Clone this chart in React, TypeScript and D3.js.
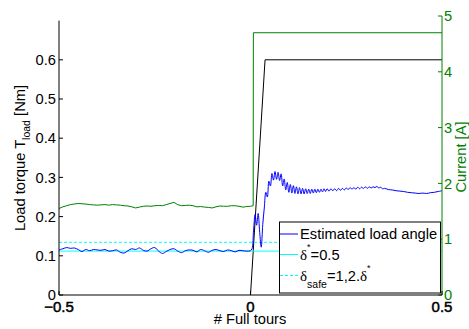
import React from 'react';
import * as d3 from 'd3';

const W = 469;
const H = 329;

const tourTicks = [-0.5, 0, 0.5];
const torqueTicks = [0, 0.1, 0.2, 0.3, 0.4, 0.5, 0.6];
const currentTicks = [0, 1, 2, 3, 4, 5];

// Estimated load angle, [full tours, value] (left axis)
const loadAngle: [number, number][] = [
  [-0.50, 0.115], [-0.49, 0.118], [-0.48, 0.121], [-0.47, 0.119], [-0.46, 0.120],
  [-0.45, 0.116], [-0.44, 0.111], [-0.43, 0.116], [-0.42, 0.113], [-0.41, 0.116],
  [-0.40, 0.115], [-0.39, 0.114], [-0.38, 0.116], [-0.37, 0.112], [-0.36, 0.113],
  [-0.35, 0.115], [-0.34, 0.109], [-0.33, 0.107], [-0.32, 0.113], [-0.31, 0.118],
  [-0.30, 0.116], [-0.29, 0.120], [-0.28, 0.114], [-0.27, 0.112], [-0.26, 0.118],
  [-0.25, 0.121], [-0.24, 0.112], [-0.23, 0.106], [-0.22, 0.111], [-0.21, 0.116],
  [-0.20, 0.118], [-0.19, 0.112], [-0.18, 0.108], [-0.17, 0.113], [-0.16, 0.115],
  [-0.15, 0.114], [-0.14, 0.110], [-0.13, 0.116], [-0.12, 0.113], [-0.11, 0.109],
  [-0.10, 0.114], [-0.09, 0.116], [-0.08, 0.113], [-0.07, 0.111], [-0.06, 0.115],
  [-0.05, 0.113], [-0.04, 0.110], [-0.03, 0.114], [-0.02, 0.113], [-0.01, 0.112],
  [0.000, 0.113], [0.004, 0.118], [0.008, 0.165], [0.012, 0.205], [0.016, 0.178],
  [0.020, 0.208], [0.024, 0.160], [0.028, 0.122], [0.032, 0.180], [0.036, 0.222],
  [0.040, 0.262], [0.044, 0.250], [0.048, 0.290], [0.052, 0.278], [0.056, 0.310],
  [0.060, 0.293], [0.064, 0.315], [0.068, 0.295], [0.072, 0.313], [0.076, 0.292],
  [0.080, 0.309], [0.084, 0.278], [0.088, 0.296], [0.092, 0.268], [0.096, 0.287],
  [0.100, 0.262], [0.104, 0.282], [0.108, 0.260], [0.112, 0.279], [0.116, 0.259],
  [0.120, 0.276], [0.124, 0.258], [0.128, 0.274], [0.132, 0.258], [0.136, 0.272],
  [0.140, 0.258], [0.144, 0.271], [0.148, 0.259], [0.152, 0.270], [0.156, 0.259],
  [0.160, 0.270], [0.164, 0.260], [0.168, 0.270], [0.172, 0.261], [0.176, 0.270],
  [0.180, 0.262], [0.184, 0.270], [0.188, 0.263], [0.192, 0.271], [0.196, 0.264],
  [0.200, 0.271], [0.205, 0.265], [0.210, 0.271], [0.215, 0.266], [0.220, 0.271],
  [0.225, 0.266], [0.230, 0.272], [0.235, 0.267], [0.240, 0.272], [0.245, 0.268],
  [0.250, 0.273], [0.255, 0.269], [0.260, 0.274], [0.265, 0.270], [0.270, 0.274],
  [0.275, 0.270], [0.280, 0.275], [0.285, 0.271], [0.290, 0.275], [0.295, 0.272],
  [0.300, 0.276], [0.305, 0.272], [0.310, 0.276], [0.315, 0.273], [0.320, 0.276],
  [0.325, 0.274], [0.330, 0.277], [0.335, 0.273], [0.340, 0.275], [0.345, 0.271],
  [0.350, 0.272], [0.360, 0.269], [0.370, 0.268], [0.380, 0.266], [0.390, 0.265],
  [0.400, 0.264], [0.410, 0.262], [0.420, 0.261], [0.430, 0.260], [0.440, 0.259],
  [0.450, 0.260], [0.460, 0.259], [0.470, 0.261], [0.480, 0.262], [0.490, 0.264],
  [0.500, 0.266],
];

// Motor current, [full tours, A] (right axis)
const current: [number, number][] = [
  [-0.50, 1.55], [-0.49, 1.58], [-0.48, 1.60], [-0.47, 1.62], [-0.46, 1.63],
  [-0.45, 1.64], [-0.44, 1.635], [-0.43, 1.63], [-0.42, 1.62], [-0.41, 1.615],
  [-0.40, 1.61], [-0.39, 1.615], [-0.38, 1.62], [-0.37, 1.61], [-0.36, 1.62],
  [-0.35, 1.615], [-0.34, 1.61], [-0.33, 1.60], [-0.32, 1.595], [-0.31, 1.58],
  [-0.30, 1.56], [-0.29, 1.575], [-0.28, 1.59], [-0.27, 1.595], [-0.26, 1.59],
  [-0.25, 1.60], [-0.24, 1.605], [-0.23, 1.60], [-0.22, 1.62], [-0.21, 1.64],
  [-0.20, 1.66], [-0.19, 1.62], [-0.18, 1.60], [-0.17, 1.605], [-0.16, 1.61],
  [-0.15, 1.60], [-0.14, 1.58], [-0.13, 1.585], [-0.12, 1.575], [-0.11, 1.57],
  [-0.10, 1.56], [-0.09, 1.58], [-0.08, 1.595], [-0.07, 1.59], [-0.06, 1.59],
  [-0.05, 1.60], [-0.04, 1.60], [-0.03, 1.59], [-0.02, 1.575], [-0.01, 1.585],
  [0.000, 1.59], [0.007, 1.60], [0.0075, 4.70], [0.500, 4.70],
];

// Load torque reference [full tours, Nm] (left axis)
const torqueRef: [number, number][] = [[0, 0], [0.038, 0.6], [0.5, 0.6]];

const deltaStar = 0.112;
const deltaSafe = 0.1344;

const FONT = '"Liberation Sans", Arial, Helvetica, sans-serif';
const SERIF = '"Liberation Serif", "DejaVu Serif", serif';
const FS = 14.7;
const GREEN = '#008000';

export default function App() {
  const x = d3.scaleLinear().domain([-0.5, 0.5]).range([59, 442]);
  const yL = d3.scaleLinear().domain([0, 0.7]).range([295, 20.6]);
  const yR = d3.scaleLinear().domain([0, 5]).range([295, 16]);

  const lineL = d3.line<[number, number]>().x(d => x(d[0])).y(d => yL(d[1]));
  const lineLSmooth = d3
    .line<[number, number]>()
    .x(d => x(d[0]))
    .y(d => yL(d[1]))
    .curve(d3.curveCatmullRom.alpha(0.5));
  const lineR = d3.line<[number, number]>().x(d => x(d[0])).y(d => yR(d[1]));

  const x0 = x(-0.5);
  const x1 = x(0.5);
  const yBase = yL(0);

  return (
    <svg
      width={W}
      height={H}
      style={{ position: 'absolute', left: 0, top: 0, background: '#fff' }}
      fontFamily={FONT}
    >
      {/* current (right axis) */}
      <path d={lineR(current) ?? ''} fill="none" stroke={GREEN} strokeWidth={1} />

      {/* torque reference */}
      <path d={lineL(torqueRef) ?? ''} fill="none" stroke="#000" strokeWidth={1} />

      {/* load angle limits */}
      <path
        d={lineL([[-0.5, deltaStar], [0.5, deltaStar]]) ?? ''}
        fill="none"
        stroke="#00ffff"
        strokeWidth={1}
      />
      <path
        d={lineL([[-0.5, deltaSafe], [0.5, deltaSafe]]) ?? ''}
        fill="none"
        stroke="#00ffff"
        strokeWidth={1}
        strokeDasharray="3,2"
      />

      {/* estimated load angle */}
      <path d={lineLSmooth(loadAngle) ?? ''} fill="none" stroke="#0000ff" strokeWidth={1} />

      {/* left axis */}
      <line x1={x0} x2={x0} y1={yL(0)} y2={yL(0.7)} stroke="#000" strokeWidth={1} />
      {torqueTicks.map(t => (
        <g key={'l' + t}>
          <line x1={x0} x2={x0 + 4} y1={yL(t)} y2={yL(t)} stroke="#000" strokeWidth={1} />
          <text x={x0 - 3} y={yL(t)} dy="0.36em" textAnchor="end" fontSize={FS} fill="#000">
            {t === 0 ? '0' : d3.format('.1f')(t)}
          </text>
        </g>
      ))}

      {/* right axis */}
      <line x1={x1} x2={x1} y1={yR(0)} y2={yR(5)} stroke={GREEN} strokeWidth={1} />
      {currentTicks.map(t => (
        <g key={'r' + t}>
          <line x1={x1 - 4} x2={x1} y1={yR(t)} y2={yR(t)} stroke={GREEN} strokeWidth={1} />
          <text x={x1 + 2} y={yR(t)} dy="0.36em" textAnchor="start" fontSize={FS} fill={GREEN}>
            {t}
          </text>
        </g>
      ))}

      {/* bottom axis */}
      <line x1={x0} x2={x1} y1={yBase} y2={yBase} stroke="#000" strokeWidth={1} />
      {tourTicks.map(t => (
        <g key={'b' + t}>
          <line x1={x(t)} x2={x(t)} y1={yBase} y2={yBase - 4} stroke="#000" strokeWidth={1} />
          <text
            x={x(t)}
            y={312}
            textAnchor="middle"
            fontSize={15}
            fill="#000"
            stroke="#000"
            strokeWidth={0.5}
          >
            {t === 0 ? '0' : d3.format('.1f')(t)}
          </text>
        </g>
      ))}

      {/* axis titles */}
      <text x={250} y={324} textAnchor="middle" fontSize={FS} fill="#000">
        # Full tours
      </text>
      <text
        transform="translate(25,158) rotate(-90)"
        textAnchor="middle"
        fontSize={FS}
        fill="#000"
      >
        Load torque T
        <tspan fontSize={10.5} dy={5}>load</tspan>
        <tspan dy={-5}> [Nm]</tspan>
      </text>
      <text
        transform="translate(466,157) rotate(-90)"
        textAnchor="middle"
        fontSize={FS}
        fill={GREEN}
      >
        Current [A]
      </text>

      {/* legend */}
      <g>
        <rect x={279.5} y={222} width={161} height={71} fill="#fff" stroke="#000" strokeWidth={1} />
        <line x1={280} x2={298} y1={234} y2={234} stroke="#0000ff" strokeWidth={1} />
        <text x={300} y={239} fontSize={FS} fill="#000">Estimated load angle</text>

        <line x1={280} x2={298} y1={254.5} y2={254.5} stroke="#00ffff" strokeWidth={1} />
        <text x={300} y={260} fontSize={FS} fill="#000">
          <tspan fontFamily={SERIF} fontSize={15}>δ</tspan>
          <tspan fontSize={9} dy={-10}>*</tspan>
          <tspan dy={10}>=0.5</tspan>
        </text>

        <line
          x1={280}
          x2={298}
          y1={275.5}
          y2={275.5}
          stroke="#00ffff"
          strokeWidth={1}
          strokeDasharray="3,2"
        />
        <text x={300} y={281} fontSize={FS} fill="#000">
          <tspan fontFamily={SERIF} fontSize={15}>δ</tspan>
          <tspan fontSize={10.5} dy={7}>safe</tspan>
          <tspan dy={-7}>=1,2.</tspan>
          <tspan fontFamily={SERIF} fontSize={15}>δ</tspan>
          <tspan fontSize={9} dy={-10}>*</tspan>
        </text>
      </g>
    </svg>
  );
}
